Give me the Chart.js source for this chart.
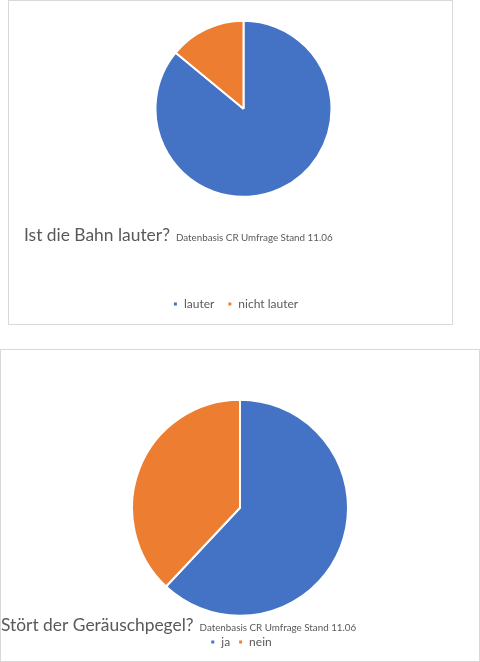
<!DOCTYPE html>
<html lang="de">
<head>
<meta charset="utf-8">
<title>Umfrage Bahn</title>
<script src="https://cdn.jsdelivr.net/npm/chart.js@4.4.1/dist/chart.umd.min.js"></script>
<style>
  html, body { margin: 0; padding: 0; background: #fff; }
  body { position: relative; width: 480px; height: 662px; overflow: hidden; }
  .box { position: absolute; border: 1px solid #d9d9d9; overflow: hidden; box-sizing: border-box; }
  #box1 { left: 8px; top: 0; width: 445px; height: 325px; }
  #box2 { left: 0; top: 349px; width: 480px; height: 313px; }
  .wrap { position: absolute; }
  #wrap1 { left: 15px; top: 20px; width: 439px; height: 302px; }
  #wrap2 { left: 0; top: 50px; width: 478px; height: 261px; }
</style>
</head>
<body>
<div class="box" id="box1"><div class="wrap" id="wrap1"><canvas id="chart1"></canvas></div></div>
<div class="box" id="box2"><div class="wrap" id="wrap2"><canvas id="chart2"></canvas></div></div>

<script>
// Chart 1: Ist die Bahn lauter?
const labels1 = ["lauter", "nicht lauter"];
const values1 = [86, 14];
const title1 = "Ist die Bahn lauter?";

// Chart 2: Stört der Geräuschpegel?
const labels2 = ["ja", "nein"];
const values2 = [62, 38];
const title2 = "Stört der Geräuschpegel?";

const source = "Datenbasis CR Umfrage Stand 11.06";
const pieColors = ["#4472c4", "#ed7d31"];
const textColor = "#595959";
const fontFamily = "Lato, 'Open Sans', sans-serif";

// draws the small source note on the same baseline right after the title
const sourceNote = {
  id: "sourceNote",
  afterLayout(chart, args, opts) {
    if (opts.legendShift) {
      chart.legend.left += opts.legendShift;
      chart.legend.right += opts.legendShift;
    }
  },
  afterDraw(chart, args, opts) {
    const tb = chart.titleBlock;
    if (!tb) return;
    const ctx = chart.ctx;
    const tf = chart.options.plugins.title.font;
    ctx.save();
    ctx.font = tf.size + "px " + tf.family;
    ctx.textBaseline = "middle";
    const m = ctx.measureText(chart.options.plugins.title.text);
    const mid = tb.top + tb._padding.top + tf.size * tf.lineHeight / 2;
    const baseline = mid + ctx.measureText("I").actualBoundingBoxDescent;
    ctx.font = opts.size + "px " + tf.family;
    ctx.textBaseline = "alphabetic";
    ctx.fillStyle = textColor;
    ctx.fillText(opts.text, tb.left + m.width + opts.gap, baseline);
    ctx.restore();
  }
};

function makePie(id, labels, values, title, cfg) {
  return new Chart(document.getElementById(id), {
    type: "pie",
    plugins: [sourceNote],
    data: {
      labels: labels,
      datasets: [{
        data: values,
        backgroundColor: pieColors,
        borderColor: "#ffffff",
        borderWidth: 2,
        hoverOffset: 0,
        radius: cfg.radius,
      }],
    },
    options: {
      responsive: true,
      maintainAspectRatio: false,
      animation: false,
      layout: { padding: { top: 0, left: 0, right: 0, bottom: 3 } },
      plugins: {
        tooltip: { enabled: false },
        title: {
          display: true,
          text: title,
          position: "bottom",
          align: "start",
          weight: 500,
          color: textColor,
          font: { family: fontFamily, size: 17.4, weight: "normal", lineHeight: 1 },
          padding: cfg.titlePadding,
        },
        legend: {
          position: "bottom",
          weight: 1000,
          labels: {
            color: textColor,
            boxWidth: 5,
            boxHeight: 5,
            padding: cfg.legendPadding,
            font: { family: fontFamily, size: 12 },
          },
        },
        sourceNote: { text: source, size: 9.8, gap: 6, legendShift: cfg.legendShift },
      },
    },
  });
}

makePie("chart1", labels1, values1, title1, {
  radius: 88,
  titlePadding: { top: 30, bottom: 41 },
  legendPadding: 13,
  legendShift: -8,
});

makePie("chart2", labels2, values2, title2, {
  radius: 108,
  titlePadding: { top: 1.5, bottom: -6.5 },
  legendPadding: 8,
  legendShift: 1,
});
</script>
</body>
</html>
